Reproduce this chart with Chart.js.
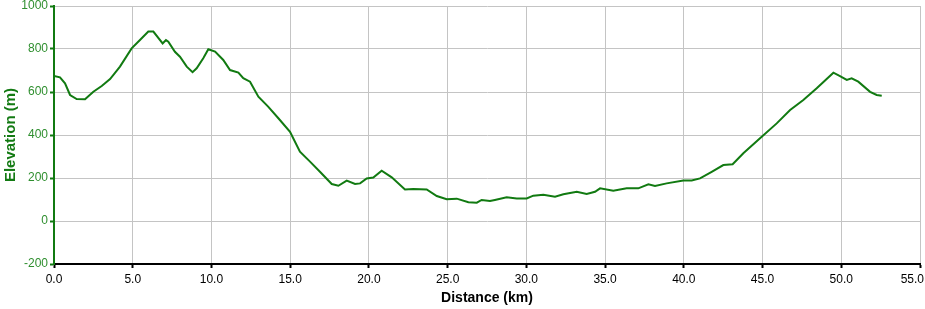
<!DOCTYPE html>
<html>
<head>
<meta charset="utf-8">
<script src="https://cdn.jsdelivr.net/npm/chart.js@4.4.1/dist/chart.umd.min.js"></script>
<style>
html,body{margin:0;padding:0;background:#fff;}
#wrap{width:925px;height:309px;}
</style>
</head>
<body>
<div id="wrap"><canvas id="c" width="925" height="309"></canvas></div>
<script>
const distanceKm = [0,0.38,0.7,1.02,1.44,1.97,2.5,3.03,3.56,4.19,4.93,5.46,5.99,6.31,6.9,7.11,7.26,7.68,8.0,8.43,8.8,9.06,9.48,9.8,10.23,10.75,11.18,11.71,12.02,12.45,12.98,13.6,14.25,14.99,15.62,16.26,16.89,17.64,18.06,18.59,19.12,19.44,19.86,20.28,20.81,21.45,22.29,22.82,23.67,24.31,24.94,25.58,26.32,26.85,27.16,27.69,28.0,28.75,29.39,30.02,30.44,31.08,31.82,32.35,33.2,33.83,34.36,34.68,35.52,36.37,37.11,37.75,38.17,38.91,39.97,40.5,41.03,41.77,42.51,43.1,43.78,44.84,45.9,46.75,47.59,48.44,49.5,49.92,50.35,50.66,51.08,51.83,52.25,52.57];
const elevationM = [674,668,640,586,567,566,601,628,660,718,803,842,881,881,826,842,834,787,764,718,692,710,757,799,788,749,702,690,664,648,578,532,478,415,322,276,229,172,164,188,172,175,198,202,234,203,147,149,147,116,101,104,87,85,98,93,98,110,105,105,118,122,113,124,136,126,136,152,141,152,152,171,163,175,188,188,198,229,260,264,315,385,454,516,563,617,690,674,656,664,648,601,586,583];
const xTicks = [0,5,10,15,20,25,30,35,40,45,50,55];
const yTicks = [-200,0,200,400,600,800,1000];
const xTitle = 'Distance (km)';
const yTitle = 'Elevation (m)';

const points = distanceKm.map((d,i)=>({x:d,y:elevationM[i]}));
const FONT = '"Liberation Sans", Arial, sans-serif';
const GREEN_LINE = '#117a11';
const GREEN_TEXT = '#2f8f2f';
const GREEN_TITLE = '#137a13';

// keep the last x-axis label inside the canvas, as the original does
const lastLabelInside = {
  id: 'lastLabelInside',
  beforeDraw(chart) {
    const s = chart.scales.x;
    const items = s.getLabelItems(chart.chartArea);
    if (!items.length) return;
    const it = items[items.length - 1];
    const ctx = chart.ctx;
    ctx.save();
    ctx.font = `12px ${FONT}`;
    const w = ctx.measureText(String(it.label)).width;
    ctx.restore();
    const maxX = chart.width - 1 - w / 2;
    if (it.options.translation[0] > maxX) it.options.translation[0] = maxX;
  }
};

new Chart(document.getElementById('c'), {
  type: 'line',
  data: { datasets: [{
    data: points,
    borderColor: GREEN_LINE,
    borderWidth: 2,
    pointRadius: 0,
    tension: 0,
    fill: false
  }]},
  plugins: [lastLabelInside],
  options: {
    responsive: false,
    animation: false,
    events: [],
    layout: { padding: { top: 6, right: 5, left: 0, bottom: 0 } },
    plugins: { legend: { display: false }, tooltip: { enabled: false } },
    scales: {
      x: {
        type: 'linear', min: 0, max: 55,
        afterBuildTicks: s => { s.ticks = xTicks.map(v=>({value:v})); },
        afterFit: s => { s.height = 45; s.paddingLeft = 0; s.paddingRight = 0; },
        ticks: { color: '#000', font: { family: FONT, size: 12 }, padding: 4, maxRotation: 0,
                 callback: v => Number(v).toFixed(1) },
        grid: { color: '#c4c4c4', lineWidth: 1, tickLength: 4, tickColor: '#000', tickWidth: 2 },
        border: { color: '#000', width: 2 },
        title: { display: true, text: xTitle, color: '#000', font: { family: FONT, size: 14, weight: 'bold' }, padding: { top: 0, bottom: 2 } }
      },
      y: {
        type: 'linear', min: -200, max: 1000,
        afterBuildTicks: s => { s.ticks = yTicks.map(v=>({value:v})); },
        afterFit: s => { s.width = 54; s.paddingTop = 0; s.paddingBottom = 0; },
        ticks: { color: GREEN_TEXT, font: { family: FONT, size: 12 }, padding: 2,
                 callback: v => String(v) },
        grid: { color: '#c4c4c4', lineWidth: 1, tickLength: 4, tickColor: GREEN_LINE, tickWidth: 2 },
        border: { color: GREEN_LINE, width: 2 },
        title: { display: true, text: yTitle, color: GREEN_TITLE, font: { family: FONT, size: 15, weight: 'bold' }, padding: { top: 2, bottom: 0 } }
      }
    }
  }
});
</script>
</body>
</html>
